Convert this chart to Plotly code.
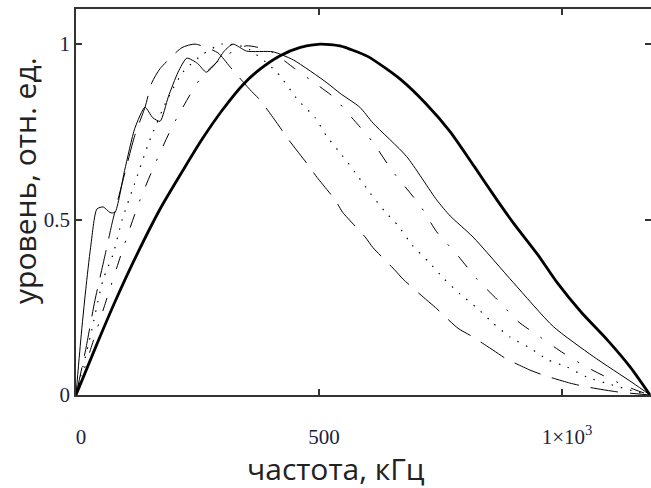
import plotly.graph_objects as go

# ---- data ----
thick_x = [0, 40, 80, 120, 173, 220, 260, 300, 344, 380, 420, 460, 502, 543, 600, 667, 720, 770, 820, 866, 900, 950, 990, 1040, 1093, 1140, 1181]
thick_y = [0, 0.135, 0.265, 0.385, 0.53, 0.64, 0.73, 0.81, 0.885, 0.93, 0.967, 0.99, 1.0, 0.995, 0.965, 0.90, 0.83, 0.75, 0.65, 0.556, 0.49, 0.40, 0.32, 0.235, 0.157, 0.08, 0.0]

thin_x = [0, 10, 20, 30, 43, 56, 70, 80, 100, 121, 142, 158, 173, 190, 210, 228, 250, 268, 288, 305, 323, 351, 405, 447, 516, 543, 584, 611, 680, 742, 770, 817, 900, 982, 1064, 1146, 1181]
thin_y = [0, 0.16, 0.30, 0.42, 0.53, 0.536, 0.52, 0.52, 0.64, 0.76, 0.82, 0.79, 0.78, 0.85, 0.92, 0.96, 0.945, 0.92, 0.946, 0.98, 1.0, 0.98, 0.978, 0.955, 0.89, 0.86, 0.82, 0.775, 0.68, 0.556, 0.51, 0.45, 0.32, 0.195, 0.11, 0.034, 0.0]

dash_x = [0, 20, 39, 60, 76, 100, 121, 142, 156, 173, 218, 245, 292, 317, 358, 379, 416, 436, 475, 496, 533, 549, 595, 611, 656, 673, 722, 739, 786, 811, 858, 883, 934, 961, 1016, 1051, 1113, 1181]
dash_y = [0, 0.13, 0.27, 0.40, 0.50, 0.63, 0.74, 0.82, 0.89, 0.93, 0.99, 1.0, 0.975, 0.935, 0.87, 0.84, 0.77, 0.73, 0.66, 0.62, 0.556, 0.52, 0.45, 0.42, 0.356, 0.33, 0.27, 0.25, 0.19, 0.17, 0.128, 0.105, 0.071, 0.057, 0.034, 0.023, 0.009, 0.0]

dot_x = [0, 30, 56, 76, 95, 120, 150, 187, 220, 260, 300, 350, 413, 457, 492, 516, 547, 575, 605, 634, 663, 691, 725, 758, 790, 825, 858, 893, 934, 971, 1010, 1051, 1100, 1150, 1181]
dot_y = [0, 0.17, 0.33, 0.40, 0.50, 0.60, 0.72, 0.84, 0.92, 0.97, 1.0, 0.99, 0.92, 0.84, 0.79, 0.737, 0.684, 0.633, 0.576, 0.525, 0.482, 0.428, 0.38, 0.33, 0.288, 0.248, 0.205, 0.165, 0.134, 0.10, 0.08, 0.051, 0.03, 0.01, 0.0]

dd_x = [0, 30, 60, 95, 130, 163, 200, 255, 300, 350, 400, 450, 490, 529, 574, 611, 650, 708, 742, 784, 825, 868, 909, 955, 1002, 1050, 1100, 1150, 1181]
dd_y = [0, 0.13, 0.26, 0.41, 0.55, 0.66, 0.77, 0.90, 0.96, 0.995, 0.98, 0.93, 0.89, 0.85, 0.78, 0.72, 0.64, 0.54, 0.465, 0.40, 0.33, 0.27, 0.21, 0.165, 0.12, 0.08, 0.045, 0.015, 0.0]

x_tickvals = [0, 500, 1000]
x_ticktext = ["0", "500", "1×10<sup>3</sup>"]
y_tickvals = [0, 0.5, 1]
y_ticktext = ["0", "0.5", "1"]

x_title = "частота, кГц"
y_title = "уровень, отн. ед."

fig = go.Figure()

def add(x, y, width, dash):
    fig.add_trace(go.Scatter(x=x, y=y, mode="lines",
                             line=dict(color="black", width=width, dash=dash, shape="spline", smoothing=0.6),
                             showlegend=False, hoverinfo="skip"))

add(dash_x, dash_y, 1, "28px,12px")
add(dot_x, dot_y, 1.2, "1.5px,8px")
add(dd_x, dd_y, 1, "14px,14px,2px,14px")
add(thin_x, thin_y, 1, "solid")
add(thick_x, thick_y, 2.8, "solid")

axis_common = dict(showline=True, linecolor="#333", linewidth=1.5, mirror="allticks",
                   ticks="inside", ticklen=6, tickwidth=1.5, tickcolor="#333",
                   showgrid=False, zeroline=False, automargin=False,
                   tickfont=dict(family="Liberation Serif", size=21, color="#1c2340"))

fig.update_layout(
    width=651, height=488,
    margin=dict(l=76, r=0, t=9, b=93),
    paper_bgcolor="white", plot_bgcolor="white",
    xaxis=dict(range=[0, 1183], tickvals=x_tickvals, ticktext=x_ticktext,
               ticklabelstandoff=22, ticklabelshift=5, **axis_common),
    yaxis=dict(range=[0, 1.1], tickvals=y_tickvals, ticktext=y_ticktext,
               ticklabelstandoff=0, **axis_common),
    annotations=[
        dict(text=x_title, xref="paper", yref="paper", x=0.452, y=-0.19,
             xanchor="center", yanchor="middle", showarrow=False,
             font=dict(family="Open Sans", size=30, color="#222")),
        dict(text=y_title, xref="paper", yref="paper", x=-0.0887, y=0.557,
             xanchor="center", yanchor="middle", showarrow=False, textangle=-90,
             font=dict(family="Open Sans", size=30, color="#222")),
    ],
)

fig.write_html("out.html", config={"displayModeBar": False},
               post_script="document.body.style.margin='0';document.body.style.overflow='hidden';")
